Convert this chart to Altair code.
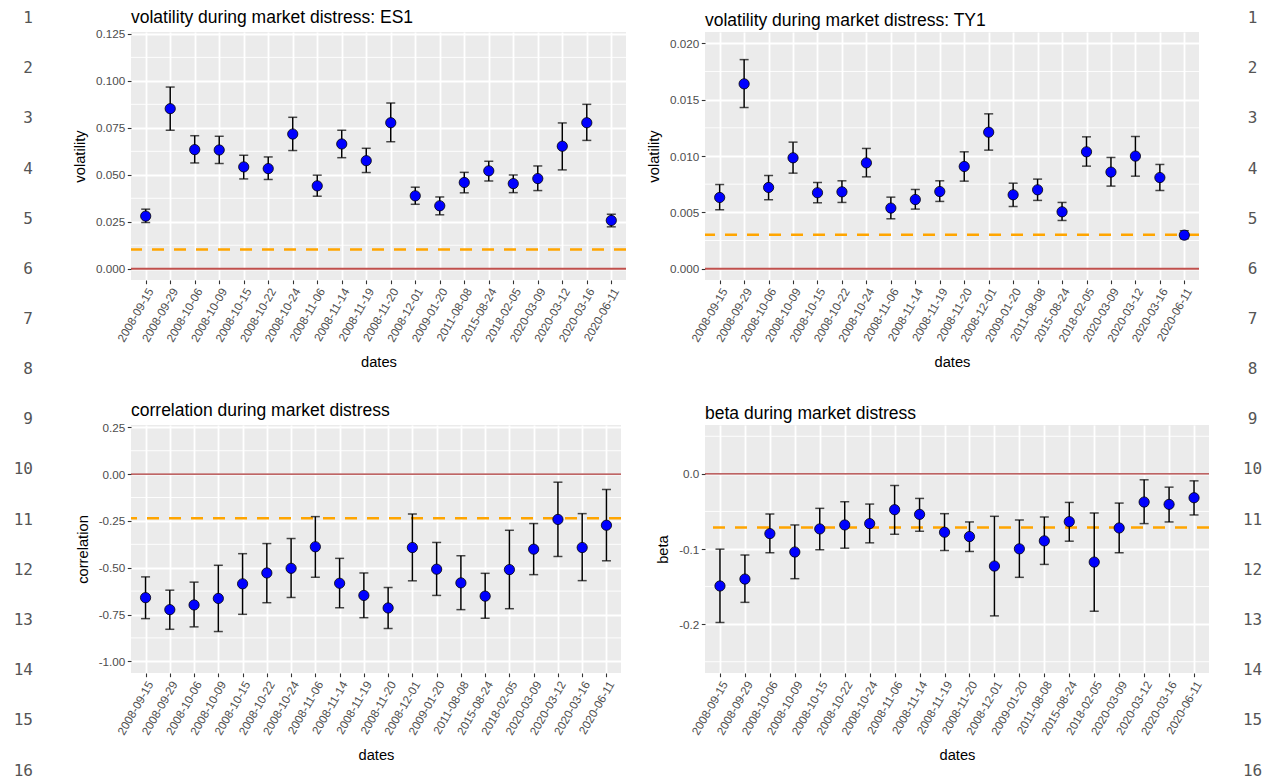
import altair as alt
import pandas as pd

dates = ["2008-09-15", "2008-09-29", "2008-10-06", "2008-10-09", "2008-10-15",
         "2008-10-22", "2008-10-24", "2008-11-06", "2008-11-14", "2008-11-19",
         "2008-11-20", "2008-12-01", "2009-01-20", "2011-08-08", "2015-08-24",
         "2018-02-05", "2020-03-09", "2020-03-12", "2020-03-16", "2020-06-11"]

es1_val = [0.0280, 0.0852, 0.0634, 0.0632, 0.0542, 0.0533, 0.0717, 0.0441, 0.0664, 0.0575,
           0.0777, 0.0388, 0.0335, 0.0459, 0.0521, 0.0453, 0.0480, 0.0652, 0.0777, 0.0257]
es1_lo = [0.0246, 0.0737, 0.0563, 0.0560, 0.0478, 0.0475, 0.0629, 0.0386, 0.0591, 0.0512,
          0.0676, 0.0343, 0.0287, 0.0404, 0.0467, 0.0405, 0.0416, 0.0526, 0.0683, 0.0223]
es1_hi = [0.0317, 0.0967, 0.0708, 0.0705, 0.0604, 0.0595, 0.0806, 0.0498, 0.0737, 0.0641,
          0.0882, 0.0434, 0.0382, 0.0513, 0.0572, 0.0499, 0.0547, 0.0776, 0.0875, 0.0290]
es1_ref = 0.0103

ty1_val = [0.00632, 0.01640, 0.00721, 0.00984, 0.00674, 0.00682, 0.00939, 0.00538, 0.00614, 0.00685,
           0.00907, 0.01211, 0.00656, 0.00700, 0.00505, 0.01037, 0.00857, 0.00999, 0.00809, 0.00298]
ty1_lo = [0.00523, 0.01430, 0.00612, 0.00848, 0.00585, 0.00588, 0.00815, 0.00443, 0.00529, 0.00597,
          0.00777, 0.01052, 0.00552, 0.00606, 0.00428, 0.00910, 0.00733, 0.00821, 0.00694, 0.00266]
ty1_hi = [0.00747, 0.01855, 0.00827, 0.01123, 0.00765, 0.00780, 0.01067, 0.00635, 0.00703, 0.00780,
          0.01037, 0.01374, 0.00759, 0.00795, 0.00588, 0.01170, 0.00987, 0.01173, 0.00925, 0.00337]
ty1_ref = 0.00301

cor_val = [-0.660, -0.724, -0.699, -0.664, -0.586, -0.528, -0.503, -0.388, -0.583, -0.648,
           -0.715, -0.392, -0.508, -0.581, -0.652, -0.510, -0.401, -0.242, -0.392, -0.273]
cor_lo = [-0.772, -0.829, -0.816, -0.841, -0.749, -0.687, -0.659, -0.551, -0.714, -0.767,
          -0.825, -0.570, -0.648, -0.724, -0.770, -0.719, -0.537, -0.440, -0.569, -0.463]
cor_hi = [-0.549, -0.620, -0.577, -0.487, -0.425, -0.371, -0.344, -0.227, -0.450, -0.528,
          -0.606, -0.213, -0.365, -0.436, -0.530, -0.300, -0.264, -0.043, -0.211, -0.082]
cor_ref = -0.236

beta_val = [-0.1492, -0.1400, -0.0795, -0.1040, -0.0733, -0.0680, -0.0662, -0.0477, -0.0539, -0.0777,
            -0.0834, -0.1227, -0.0998, -0.0892, -0.0636, -0.1174, -0.0720, -0.0375, -0.0406, -0.0318]
beta_lo = [-0.1978, -0.1710, -0.1050, -0.1395, -0.1010, -0.0989, -0.0918, -0.0804, -0.0764, -0.1020,
           -0.1033, -0.1890, -0.1377, -0.1205, -0.0896, -0.1828, -0.1050, -0.0662, -0.0640, -0.0547]
beta_hi = [-0.1002, -0.1080, -0.0534, -0.0680, -0.0459, -0.0371, -0.0402, -0.0155, -0.0327, -0.0530,
           -0.0640, -0.0565, -0.0614, -0.0574, -0.0380, -0.0521, -0.0389, -0.0079, -0.0177, -0.0093]
beta_ref = -0.0715

es1_ticks = [0.0, 0.025, 0.05, 0.075, 0.1, 0.125]
es1_minor = [0.0125, 0.0375, 0.0625, 0.0875, 0.1125]
ty1_ticks = [0.0, 0.005, 0.01, 0.015, 0.02]
ty1_minor = [0.0025, 0.0075, 0.0125, 0.0175]
cor_ticks = [-1.0, -0.75, -0.5, -0.25, 0.0, 0.25]
cor_minor = [-0.875, -0.625, -0.375, -0.125, 0.125]
beta_ticks = [-0.2, -0.1, 0.0]
beta_minor = [-0.25, -0.15, -0.05, 0.05]

numbers_top = [1, 2, 3, 4, 5, 6, 7, 8]
numbers_bottom = [9, 10, 11, 12, 13, 14, 15, 16]

FONT = "Liberation Sans"
PANEL_H = 248


def panel(title, ytitle, vals, lo, hi, ref, ticks, minor, domain, fmt,
          width, red_color, red_width):
    df = pd.DataFrame({"date": dates, "val": vals, "lo": lo, "hi": hi})
    xscale = alt.Scale(type="point", padding=0.6, domain=dates)
    xaxis = alt.Axis(title="dates", labelAngle=-60, labelAlign="right",
                     labelBaseline="top", grid=True)
    yscale = alt.Scale(domain=domain, nice=False, zero=False)
    yaxis = alt.Axis(
        title=ytitle, values=ticks, grid=True, titlePadding=8,
        labelExpr=("datum.value < 0 ? '-' + format(-datum.value, '%s') : format(datum.value, '%s')"
                   % (fmt, fmt)),
    )
    x = alt.X("date:N", scale=xscale, axis=xaxis, sort=dates)

    def y(field):
        return alt.Y(field, type="quantitative", scale=yscale, axis=yaxis)

    minor_layer = alt.Chart(pd.DataFrame({"m": minor})).mark_rule(
        color="white", strokeWidth=0.9).encode(y=y("m"))
    red = alt.Chart(pd.DataFrame({"z": [0.0]})).mark_rule(
        color=red_color, strokeWidth=red_width).encode(y=y("z"))
    orange = alt.Chart(pd.DataFrame({"r": [ref]})).mark_rule(
        color="#FFA500", strokeWidth=2.5, strokeDash=[12, 10]).encode(y=y("r"))
    base = alt.Chart(df)
    bars = base.mark_rule(color="black", strokeWidth=1.5).encode(
        x=x, y=y("lo"), y2="hi")
    cap_lo = base.mark_tick(color="black", size=9, thickness=1.5).encode(x=x, y=y("lo"))
    cap_hi = base.mark_tick(color="black", size=9, thickness=1.5).encode(x=x, y=y("hi"))
    pts = base.mark_circle(fill="#0000FF", stroke="black", strokeWidth=0.8,
                           size=105, opacity=1).encode(x=x, y=y("val"))
    return alt.layer(minor_layer, red, orange, bars, cap_lo, cap_hi, pts).properties(
        width=width, height=PANEL_H,
        title=alt.TitleParams(text=title, anchor="start", frame="group",
                              fontSize=17.5, font=FONT, fontWeight="normal",
                              color="black", offset=-11.5, baseline="alphabetic"),
        view=alt.ViewBackground(fill="#EBEBEB", stroke=None),
    )


def gutter(nums, domain, width, align, dx):
    df = pd.DataFrame({"n": nums})
    return alt.Chart(df).mark_text(
        font="DejaVu Sans Mono", fontSize=16, color="#555555", align=align,
        baseline="middle", dx=dx,
    ).encode(
        y=alt.Y("n:Q", scale=alt.Scale(domain=domain, reverse=True, nice=False, zero=False),
                axis=None),
        text="n:Q",
    ).properties(width=width, height=PANEL_H,
                 view=alt.ViewBackground(fill="white", stroke=None))


def spacer(width):
    return alt.Chart(pd.DataFrame({"s": [""]})).mark_text().encode(text="s:N").properties(
        width=width, height=PANEL_H, view=alt.ViewBackground(stroke=None))


p1 = panel("volatility during market distress: ES1", "volatility", es1_val, es1_lo, es1_hi,
           es1_ref, es1_ticks, es1_minor, [-0.006, 0.126], ".3f", 495, "#C0504D", 2)
p2 = panel("volatility during market distress: TY1", "volatility", ty1_val, ty1_lo, ty1_hi,
           ty1_ref, ty1_ticks, ty1_minor, [-0.001, 0.021], ".3f", 494, "#C0504D", 2)
p3 = panel("correlation during market distress", "correlation", cor_val, cor_lo, cor_hi,
           cor_ref, cor_ticks, cor_minor, [-1.0625, 0.2625], ".2f", 490, "#A83232", 1.2)
p4 = panel("beta during market distress", "beta", beta_val, beta_lo, beta_hi,
           beta_ref, beta_ticks, beta_minor, [-0.265, 0.065], ".1f", 504, "#A83232", 1.2)

L1 = gutter(numbers_top, [1.279, 6.219], 85, "right", -17.5)
L2 = gutter(numbers_bottom, [9.114, 14.054], 88, "right", -19)
R1 = gutter(numbers_top, [1.279, 6.219], 1, "center", 8)
R2 = gutter(numbers_bottom, [9.114, 14.054], 1, "center", 8)

chart = alt.concat(
    L1, p1, spacer(9), p2, R1,
    L2, p3, spacer(1), p4, R2,
    columns=5, spacing={"row": 145, "column": 35}, bounds="flush", align="none",
).properties(padding=0).configure_view(stroke=None).configure_axis(
    labelFont=FONT, titleFont=FONT, labelFontSize=11.7, titleFontSize=14.7,
    labelColor="#4D4D4D", titleColor="black", titleFontWeight="normal",
    tickColor="#333333", tickSize=3.7, tickWidth=1.1, labelPadding=2.5,
    domain=False, gridColor="white", gridWidth=1.8, titlePadding=4,
).configure_axisX(titlePadding=11)

chart.save("out.html", embed_options={"renderer": "svg", "actions": False})
